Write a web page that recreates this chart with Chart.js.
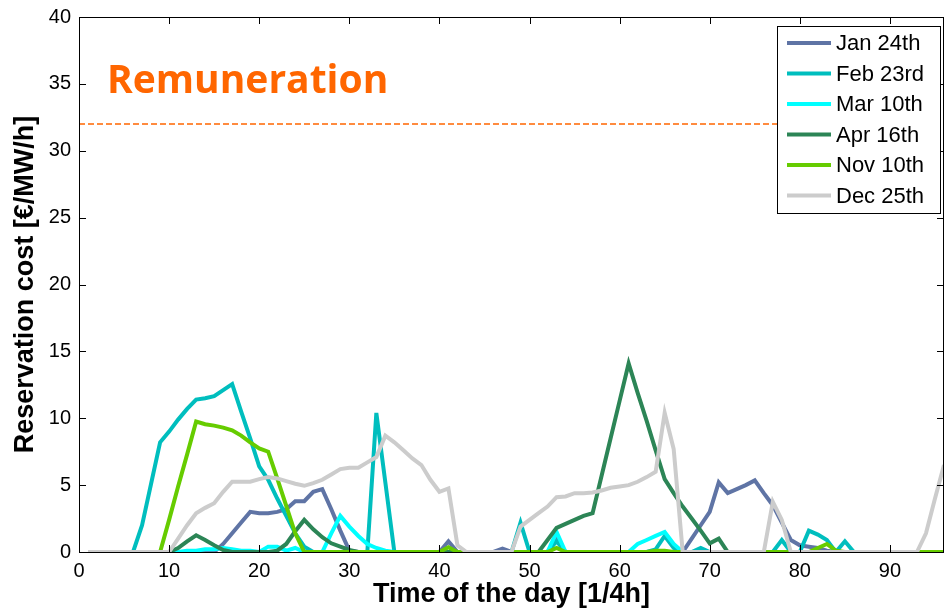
<!DOCTYPE html>
<html><head><meta charset="utf-8">
<script src="https://cdn.jsdelivr.net/npm/chart.js@4.4.1/dist/chart.umd.min.js"></script>
<style>html,body{margin:0;padding:0;background:#fff;overflow:hidden}#wrap{width:946px;height:612px}</style>
</head><body><div id="wrap"><canvas id="c" width="946" height="612"></canvas></div>
<script>
// ---- data ----
const quarters = Array.from({length: 96}, (_, i) => i + 1);
const xTicks = [0, 10, 20, 30, 40, 50, 60, 70, 80, 90];
const yTicks = [0, 5, 10, 15, 20, 25, 30, 35, 40];
const seriesNames = ['Jan 24th', 'Feb 23rd', 'Mar 10th', 'Apr 16th', 'Nov 10th', 'Dec 25th'];
const seriesColors = ['#5F74A5', '#00BEBE', '#00FFFF', '#2C8556', '#66CC00', '#CCCCCC'];

const jan24 = [0,0,0,0,0,0,0,0,0,0,
  0,0,0,0,0,0.6,1.4,2.2,3.0,2.9,
  2.9,3.0,3.2,3.8,3.8,4.5,4.7,3.2,1.6,0.1,
  0,0,0,0,0,0,0,0,0,0,
  0.8,0,0,0,0,0,0.25,0,0,0,
  0,0,0.9,0,0,0,0,0,0,0,
  0,0,0,0,0,0,0,1.0,2.0,3.0,
  5.2,4.4,4.7,5.0,5.35,4.4,3.5,2.2,0.9,0.5,
  0.4,0.3,0.1,0,0,0,0,0,0,0,
  0,0,0,0,0,0];
const feb23 = [0,0,0,0,0,0,2.0,5.1,8.2,9.0,
  9.9,10.7,11.4,11.5,11.65,12.1,12.55,10.5,8.5,6.4,
  5.4,4.0,2.7,1.4,0.4,0,0,0,0,0,
  0,0,10.4,5.2,0,0,0,0,0,0,
  0,0,0,0,0,0,0,0,2.2,0,
  0,0,0.8,0,0,0,0,0,0,0,
  0,0,0,0.2,1.2,0.3,0,0,0.3,0,
  0,0,0,0,0,0,0,0.9,0,0,
  1.6,1.3,0.9,0,0.8,0,0,0,0,0,
  0,0,0,0,0,0];
const mar10 = [0,0,0,0,0,0,0,0,0,0,
  0,0.1,0.1,0.2,0.2,0.3,0.2,0.1,0.1,0,
  0.4,0.4,0.1,0.3,0,0,0,1.4,2.7,1.9,
  1.2,0.6,0.3,0.1,0,0,0,0,0,0,
  0,0,0,0,0,0,0,0,0,0,
  0,0,1.5,0,0,0,0,0,0,0,
  0,0.6,0.9,1.2,1.5,0.6,0,0,0,0,
  0,0,0,0,0,0,0,0,0,0,
  0,0,0,0,0,0,0,0,0,0,
  0,0,0,0,0,0];
const apr16 = [0,0,0,0,0,0,0,0,0,0,
  0.3,0.8,1.25,0.9,0.5,0.15,0,0,0,0,
  0,0.1,0.6,1.55,2.4,1.7,1.1,0.65,0.4,0.15,
  0,0,0,0,0,0,0,0,0,0,
  0,0,0,0,0,0,0,0,0,0,
  0,0.9,1.8,2.1,2.4,2.7,2.9,5.7,8.5,11.3,
  14.1,11.9,9.8,7.6,5.45,4.4,3.4,2.5,1.6,0.65,
  1.0,0,0,0,0,0,0,0,0,0,
  0,0,0,0,0,0,0,0,0,0,
  0,0,0,0,0,0];
const nov10 = [0,0,0,0,0,0,0,0,0,2.4,
  4.9,7.3,9.75,9.55,9.45,9.3,9.1,8.7,8.2,7.75,
  7.5,5.5,3.45,1.4,0,0,0,0,0,0,
  0,0,0,0,0,0,0,0,0,0,
  0.35,0,0,0,0,0,0,0,0,0,
  0,0,0.3,0,0,0,0,0,0,0,
  0,0,0,0.1,0.1,0,0,0,0,0,
  0,0,0,0,0,0,0,0,0,0,
  0,0.3,0.6,0.1,0,0,0,0,0,0,
  0,0,0,0,0,0];
const dec25 = [0,0,0,0,0,0,0,0,0,0,
  1.0,2.0,2.9,3.3,3.65,4.5,5.25,5.25,5.25,5.45,
  5.6,5.5,5.3,5.1,4.95,5.15,5.4,5.8,6.2,6.3,
  6.3,6.7,7.1,8.7,8.2,7.6,7.0,6.5,5.4,4.5,
  4.75,0.5,0,0,0,0,0,0,1.9,2.4,
  2.9,3.4,4.1,4.15,4.4,4.4,4.45,4.6,4.8,4.9,
  5.0,5.25,5.6,6.0,10.4,7.7,0,0,0,0,
  0,0,0,0,0,0,3.75,2.4,0,0,
  0,0,0,0,0,0,0,0,0,0,
  0,0,0,1.4,4.0,6.5];
const remuneration = 32;
const remunerationLabel = 'Remuneration';
const xRange = [0, 96];
const yRange = [0, 40];

// ---- chart ----
const allSeries = [jan24, feb23, mar10, apr16, nov10, dec25];
const FONT = "'Liberation Sans', Arial, sans-serif";

const datasets = allSeries.map((vals, k) => ({
  label: seriesNames[k],
  data: vals.map((v, i) => ({x: quarters[i], y: v})),
  borderColor: seriesColors[k],
  backgroundColor: seriesColors[k],
  borderWidth: 4,
  pointRadius: 0,
  tension: 0,
  fill: false,
  order: seriesNames.length - k,
  borderJoinStyle: 'miter'
}));
datasets.push({
  label: '__remun',
  data: [{x: xRange[0], y: remuneration}, {x: xRange[1], y: remuneration}],
  borderColor: '#FF6600',
  borderWidth: 1.5,
  borderDash: [6, 3],
  pointRadius: 0,
  order: 10
});

const framePlugin = {
  id: 'frame',
  afterDatasetsDraw(chart) {
    const {ctx, chartArea: a, scales: {x, y}} = chart;
    ctx.save();
    // remuneration text
    ctx.fillStyle = '#FF6600';
    ctx.font = "bold 39px 'Open Sans', sans-serif";
    ctx.textBaseline = 'alphabetic';
    ctx.textAlign = 'left';
    ctx.fillText(remunerationLabel, a.left + 28, a.top + 76);
    // box
    ctx.strokeStyle = '#000';
    ctx.lineWidth = 1;
    ctx.strokeRect(Math.round(a.left) + 0.5, Math.round(a.top) + 0.5, Math.round(a.right - a.left) - 1, Math.round(a.bottom - a.top));
    // inward ticks
    const tl = 7;
    ctx.beginPath();
    xTicks.forEach(v => {
      const px = Math.round(x.getPixelForValue(v)) + 0.5;
      ctx.moveTo(px, a.bottom); ctx.lineTo(px, a.bottom - tl);
      ctx.moveTo(px, a.top); ctx.lineTo(px, a.top + tl);
    });
    yTicks.forEach(v => {
      const py = Math.round(y.getPixelForValue(v)) + 0.5;
      ctx.moveTo(a.left, py); ctx.lineTo(a.left + tl, py);
      ctx.moveTo(a.right, py); ctx.lineTo(a.right - tl, py);
    });
    ctx.stroke();
    // legend
    const bx = a.right - 167, by = a.top + 9, bw = 163, bh = 187;
    ctx.fillStyle = '#fff';
    ctx.fillRect(bx, by, bw, bh);
    ctx.strokeStyle = '#000';
    ctx.lineWidth = 1;
    ctx.strokeRect(Math.round(bx) + 0.5, Math.round(by) + 0.5, bw, bh);
    ctx.font = '22px ' + FONT;
    ctx.textBaseline = 'middle';
    chart.data.datasets.forEach((ds, k) => {
      if (ds.label === '__remun') return;
      const cy = by + 17 + k * 30.5;
      ctx.strokeStyle = ds.borderColor;
      ctx.lineWidth = 4;
      ctx.beginPath();
      ctx.moveTo(bx + 10, cy); ctx.lineTo(bx + 54, cy);
      ctx.stroke();
      ctx.fillStyle = '#000';
      ctx.fillText(ds.label, bx + 59, cy + 1);
    });
    ctx.restore();
  }
};

new Chart(document.getElementById('c'), {
  type: 'line',
  data: {datasets},
  options: {
    responsive: false,
    devicePixelRatio: 1,
    animation: false,
    events: [],
    layout: {padding: {top: 17, right: 2, left: 0, bottom: 0}},
    plugins: {legend: {display: false}, tooltip: {enabled: false}},
    scales: {
      x: {
        type: 'linear', min: xRange[0], max: xRange[1],
        afterBuildTicks: s => { s.ticks = xTicks.map(v => ({value: v})); },
        afterFit: s => { s.height = 60; s.paddingLeft = 0; s.paddingRight = 0; },
        grid: {display: false, drawTicks: false},
        border: {display: false},
        ticks: {font: {family: FONT, size: 20}, color: '#000', padding: 7, maxRotation: 0, autoSkip: false},
        title: {display: true, text: 'Time of the day [1/4h]', color: '#000',
          font: {family: FONT, size: 27, weight: 'bold'}, padding: {top: 0, bottom: 1}}
      },
      y: {
        type: 'linear', min: yRange[0], max: yRange[1],
        afterBuildTicks: s => { s.ticks = yTicks.map(v => ({value: v})); },
        afterFit: s => { s.width = 79; s.paddingTop = 0; s.paddingBottom = 0; },
        grid: {display: false, drawTicks: false},
        border: {display: false},
        ticks: {font: {family: FONT, size: 20}, color: '#000', padding: 8},
        title: {display: true, text: 'Reservation cost [€/MW/h]', color: '#000',
          font: {family: FONT, size: 27, weight: 'bold'}, padding: {top: 9, bottom: 0}}
      }
    }
  },
  plugins: [framePlugin]
});
</script></body></html>
